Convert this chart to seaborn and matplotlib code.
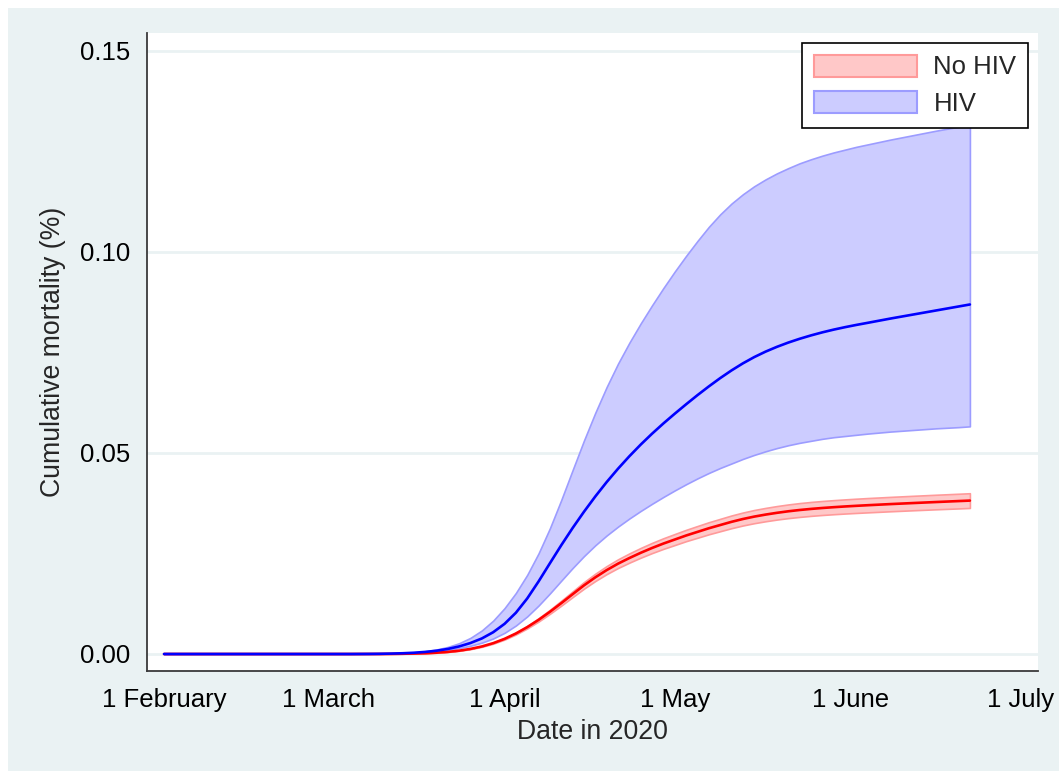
import numpy as np
import pandas as pd
import matplotlib
matplotlib.use("Agg")
import matplotlib.pyplot as plt
from matplotlib.patches import Patch, Rectangle
import seaborn as sns

# ----------------------
# 1. Data, day 0 = 1 February 2020
# ----------------------
days = [0, 10, 20, 30, 33,
        36, 38, 40, 42, 44, 46, 48, 50, 52, 54,
        56, 58, 60, 62, 64, 66, 68, 70, 72, 74,
        76, 78, 80, 82, 84, 86, 88, 90, 92, 94,
        96, 98, 100, 102, 104, 106, 108, 110, 112, 114,
        116, 118, 120, 122, 124,
        128, 132, 136, 140, 142]

hiv_mid = [0, 0, 0, 0, 0,
           0.00002, 0.00005, 0.0001, 0.00018, 0.00031, 0.00051, 0.00081, 0.00125, 0.00188, 0.00273,
           0.00386, 0.00541, 0.00749, 0.01025, 0.01381, 0.01804, 0.02257, 0.02705, 0.03133, 0.03537,
           0.03918, 0.04275, 0.04607, 0.04917, 0.05207, 0.05478, 0.05733, 0.05975, 0.06209, 0.06436,
           0.06653, 0.06859, 0.07051, 0.07226, 0.07382, 0.07518, 0.07637, 0.07743, 0.07837, 0.07921,
           0.07997, 0.08065, 0.08126, 0.08182, 0.08234,
           0.0834, 0.0844, 0.0854, 0.0864, 0.0869]
hiv_hi = [0, 0, 0, 0, 0,
          0.00002, 0.00005, 0.00011, 0.00022, 0.0004, 0.00068, 0.00111, 0.00175, 0.00268, 0.00401,
          0.00585, 0.00829, 0.01139, 0.01517, 0.01968, 0.02503, 0.03128, 0.03831, 0.04574, 0.05309,
          0.0600, 0.0664, 0.0722, 0.0774, 0.0822, 0.0867, 0.0910, 0.0951, 0.0990, 0.1027,
          0.1062, 0.1093, 0.1120, 0.1143, 0.1163, 0.1180, 0.1195, 0.1208, 0.1220, 0.1230,
          0.1239, 0.1247, 0.1254, 0.1261, 0.1267,
          0.1279, 0.1290, 0.1301, 0.1311, 0.1316]
hiv_lo = [0, 0, 0, 0, 0,
          0.00001, 0.00004, 0.00009, 0.00017, 0.00029, 0.00046, 0.0007, 0.00103, 0.00147, 0.00205,
          0.00282, 0.00386, 0.00526, 0.00708, 0.00935, 0.01205, 0.01507, 0.01824, 0.02138, 0.02434,
          0.02704, 0.02947, 0.03167, 0.03369, 0.03557, 0.03735, 0.03905, 0.04067, 0.04221, 0.04366,
          0.04501, 0.04625, 0.04737, 0.0485, 0.0495, 0.0504, 0.0512, 0.0519, 0.0525, 0.0530,
          0.0535, 0.0539, 0.0542, 0.0545, 0.0548,
          0.0553, 0.0557, 0.0561, 0.0564, 0.0566]

nohiv_mid = [0, 0, 0, 0, 0,
             0.00001, 0.00001, 0.00003, 0.00006, 0.00011, 0.00019, 0.00032, 0.00052, 0.00082, 0.00126,
             0.00187, 0.00269, 0.00376, 0.00509, 0.00667, 0.00848, 0.01049, 0.01264, 0.01486, 0.01706,
             0.01906, 0.02086, 0.02246, 0.02386, 0.02516, 0.02636, 0.02746, 0.02846, 0.02946, 0.03036,
             0.03126, 0.03206, 0.03286, 0.03356, 0.03416, 0.03466, 0.0351, 0.03548, 0.0358, 0.03607,
             0.0363, 0.0365, 0.03668, 0.03684, 0.03699,
             0.03727, 0.03753, 0.03778, 0.03802, 0.03814]
nohiv_hi = [0, 0, 0, 0, 0,
            0.00001, 0.00001, 0.00003, 0.00006, 0.00012, 0.0002, 0.00034, 0.00055, 0.00086, 0.00132,
            0.00196, 0.00282, 0.00394, 0.00533, 0.00699, 0.00889, 0.01099, 0.01325, 0.01557, 0.01788,
            0.01997, 0.02186, 0.02354, 0.02501, 0.02637, 0.02763, 0.02878, 0.02983, 0.03087, 0.03182,
            0.03276, 0.0336, 0.03444, 0.03517, 0.0358, 0.03632, 0.03678, 0.03718, 0.03752, 0.0378,
            0.03804, 0.03825, 0.03844, 0.03861, 0.03877,
            0.03906, 0.03933, 0.03959, 0.03984, 0.03997]
nohiv_lo = [0, 0, 0, 0, 0,
            0.00001, 0.00001, 0.00003, 0.00006, 0.0001, 0.00018, 0.0003, 0.0005, 0.00078, 0.0012,
            0.00178, 0.00256, 0.00358, 0.00485, 0.00635, 0.00807, 0.00999, 0.01203, 0.01415, 0.01624,
            0.01815, 0.01986, 0.02138, 0.02271, 0.02395, 0.02509, 0.02614, 0.02709, 0.02805, 0.0289,
            0.02976, 0.03052, 0.03128, 0.03195, 0.03252, 0.033, 0.03342, 0.03378, 0.03408, 0.03434,
            0.03456, 0.03475, 0.03492, 0.03507, 0.03521,
            0.03548, 0.03573, 0.03597, 0.03619, 0.03631]

month_ticks = ["2020-02-01", "2020-03-01", "2020-04-01", "2020-05-01", "2020-06-01", "2020-07-01"]
month_labels = ["1 February", "1 March", "1 April", "1 May", "1 June", "1 July"]
y_ticks = [0.00, 0.05, 0.10, 0.15]

start = pd.Timestamp("2020-02-01")
dates = start + pd.to_timedelta(days, unit="D")

df = pd.DataFrame({
    "date": list(dates) * 2,
    "mortality": nohiv_mid + hiv_mid,
    "group": ["No HIV"] * len(days) + ["HIV"] * len(days),
})

# ----------------------
# 2. Style
# ----------------------
sns.set_style("white")
plt.rcParams["font.family"] = ["Liberation Sans", "DejaVu Sans"]

BG = "#EAF2F3"
RED, RED_FILL, RED_EDGE = "#FF0000", "#FFC8C8", "#FF9A9A"
BLUE, BLUE_FILL, BLUE_EDGE = "#0000FF", "#CCCCFF", "#9C9CFF"

fig = plt.figure(figsize=(10.59, 7.71), dpi=100, facecolor="white")
fig.patches.append(Rectangle((8 / 1059, 0), 1, 1 - 8 / 771, transform=fig.transFigure,
                             facecolor=BG, edgecolor="none", zorder=-10))
ax = fig.add_axes([147 / 1059, 1 - 671 / 771, (1038 - 147) / 1059, (671 - 33) / 771])
ax.set_facecolor("white")

# ----------------------
# 3. Bands + lines
# ----------------------
ax.fill_between(dates, nohiv_lo, nohiv_hi, facecolor=RED_FILL, edgecolor=RED_EDGE,
                linewidth=1.2, zorder=2)
ax.fill_between(dates, hiv_lo, hiv_hi, facecolor=BLUE_FILL, edgecolor=BLUE_EDGE,
                linewidth=1.2, zorder=2)
sns.lineplot(data=df, x="date", y="mortality", hue="group",
             palette={"No HIV": RED, "HIV": BLUE}, hue_order=["No HIV", "HIV"],
             linewidth=1.9, legend=False, ax=ax, zorder=3)

# ----------------------
# 4. Axes
# ----------------------
ax.set_xlim(start - pd.Timedelta(days=3.0), start + pd.Timedelta(days=154.0))
ax.set_ylim(-0.00423, 0.1544)
ax.set_xticks(pd.to_datetime(month_ticks))
ax.set_xticklabels(month_labels)
ax.set_yticks(y_ticks)
ax.set_yticklabels([f"{v:.2f}" for v in y_ticks])
ax.yaxis.grid(True, color=BG, linewidth=2.0, zorder=0)
ax.set_axisbelow(True)

for side in ["top", "right"]:
    ax.spines[side].set_visible(False)
for side in ["left", "bottom"]:
    ax.spines[side].set_color("#3a3a3a")
    ax.spines[side].set_linewidth(1.3)

ax.tick_params(axis="both", direction="out", length=9, width=1.1, color="#3a3a3a",
               labelsize=18.5, labelcolor="black", pad=3)
ax.set_xlabel("Date in 2020", fontsize=19.2, labelpad=5)
ax.set_ylabel("Cumulative mortality (%)", fontsize=19.2, labelpad=10)

handles = [Patch(facecolor=RED_FILL, edgecolor=RED_EDGE, linewidth=1.5, label="No HIV"),
           Patch(facecolor=BLUE_FILL, edgecolor=BLUE_EDGE, linewidth=1.5, label="HIV")]
leg = ax.legend(handles=handles, loc="upper right", bbox_to_anchor=(0.9888, 0.9843),
                fontsize=18.5, frameon=True, fancybox=False, framealpha=1,
                handlelength=4.0, handleheight=0.95, handletextpad=0.65,
                labelspacing=0.45, borderpad=0.45, borderaxespad=0)
leg.get_frame().set_edgecolor("black")
leg.get_frame().set_linewidth(1.2)

fig.savefig("out.png", dpi=100, facecolor=fig.get_facecolor())
